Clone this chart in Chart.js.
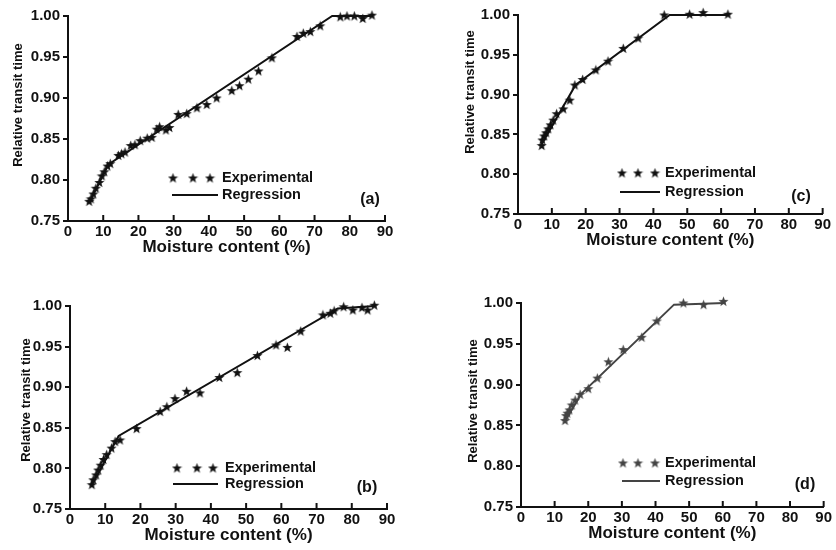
<!DOCTYPE html>
<html>
<head>
<meta charset="utf-8">
<script src="https://cdn.jsdelivr.net/npm/chart.js@4.4.1/dist/chart.umd.min.js"></script>
<style>
  body { margin: 0; background: #fff; width: 836px; height: 550px; overflow: hidden; position: relative; }
  canvas { position: absolute; }
</style>
</head>
<body>
<canvas id="chartA" width="410" height="258" style="left:0px;top:0px"></canvas>
<canvas id="chartC" width="383" height="251" style="left:450px;top:0px"></canvas>
<canvas id="chartB" width="412" height="256" style="left:0px;top:290px"></canvas>
<canvas id="chartD" width="382" height="254" style="left:452px;top:290px"></canvas>
<script>
// moisture content (%) vs relative transit time, 4 samples

const xTicks = [0, 10, 20, 30, 40, 50, 60, 70, 80, 90];
const yTicks = [0.75, 0.80, 0.85, 0.90, 0.95, 1.00];

// (a)
const expA_x = [6.0, 6.5, 7.2, 7.9, 8.9, 9.6, 10.3, 11.2, 12.0, 14.3, 15.2, 16.2, 17.8, 19.0, 20.5, 22.5, 23.8, 25.2, 26.0, 27.8, 28.8, 31.3, 33.7, 36.6, 39.4, 42.2, 46.5, 48.7, 51.2, 54.1, 57.9, 65.0, 66.8, 68.8, 71.6, 77.3, 79.2, 81.3, 83.7, 86.3];
const expA_y = [0.774, 0.777, 0.783, 0.790, 0.797, 0.805, 0.810, 0.817, 0.820, 0.830, 0.832, 0.834, 0.842, 0.843, 0.848, 0.851, 0.852, 0.862, 0.865, 0.861, 0.864, 0.880, 0.881, 0.888, 0.892, 0.900, 0.909, 0.915, 0.923, 0.933, 0.949, 0.975, 0.979, 0.981, 0.988, 0.999, 1.000, 1.000, 0.997, 1.001];
const regA_x = [6, 11.5, 75, 86.5];
const regA_y = [0.772, 0.819, 1.0, 1.0];

// (b)
const expB_x = [6.2, 6.6, 7.4, 8.0, 8.7, 9.5, 10.4, 11.8, 12.8, 14.2, 18.9, 25.6, 27.5, 29.8, 33.1, 36.9, 42.4, 47.5, 53.2, 58.5, 61.7, 65.5, 71.8, 73.9, 75.0, 77.7, 80.3, 82.9, 84.5, 86.4];
const expB_y = [0.780, 0.786, 0.792, 0.798, 0.804, 0.811, 0.817, 0.825, 0.833, 0.835, 0.849, 0.870, 0.876, 0.886, 0.895, 0.893, 0.912, 0.918, 0.939, 0.952, 0.949, 0.969, 0.989, 0.991, 0.994, 0.999, 0.995, 0.998, 0.995, 1.001];
const regB_x = [6, 13.8, 76, 86.5];
const regB_y = [0.778, 0.840, 0.997, 1.0];

// (c)
const expC_x = [7.0, 7.2, 7.7, 8.3, 8.9, 9.6, 10.4, 11.4, 13.4, 15.3, 16.8, 19.1, 23.0, 26.6, 31.1, 35.5, 43.2, 50.7, 54.7, 62.0];
const expC_y = [0.836, 0.843, 0.848, 0.852, 0.857, 0.862, 0.868, 0.876, 0.882, 0.893, 0.912, 0.919, 0.931, 0.942, 0.958, 0.971, 1.000, 1.001, 1.003, 1.001];
const regC_x = [7, 17, 44.8, 62];
const regC_y = [0.838, 0.912, 1.0, 1.0];

// (d)
const expD_x = [13.1, 13.4, 13.8, 14.4, 15.1, 16.1, 17.6, 20.0, 22.7, 26.0, 30.4, 35.9, 40.4, 48.3, 54.3, 60.2];
const expD_y = [0.856, 0.862, 0.865, 0.869, 0.875, 0.881, 0.888, 0.895, 0.908, 0.928, 0.943, 0.958, 0.978, 1.000, 0.998, 1.002];
const regD_x = [13, 18, 45.5, 60.5];
const regD_y = [0.855, 0.889, 0.998, 1.0];

const INK = '#111';
const FONT = '"Liberation Sans", Arial, sans-serif';
Chart.defaults.font.family = FONT;
Chart.defaults.color = INK;

// filled 5-point star used as the marker
function makeStar(color) {
    const c = document.createElement('canvas');
    c.width = 11; c.height = 11;
    const g = c.getContext('2d');
    g.fillStyle = color;
    g.beginPath();
    for (let i = 0; i < 10; i++) {
        const r = i % 2 === 0 ? 5.3 : 2.2;
        const a = -Math.PI / 2 + i * Math.PI / 5;
        const px = 5.5 + r * Math.cos(a), py = 5.9 + r * Math.sin(a);
        if (i === 0) g.moveTo(px, py); else g.lineTo(px, py);
    }
    g.closePath();
    g.fill();
    return c;
}

const toPts = (xs, ys) => xs.map((x, i) => ({ x: x, y: ys[i] }));

// inward x ticks, y title, in-plot legend and panel letter
const panelDecor = {
    id: 'panelDecor',
    afterDraw(chart, args, o) {
        const ctx = chart.ctx;
        const L = chart.chartArea.left, B = chart.chartArea.bottom;
        const xs = chart.scales.x;
        ctx.save();
        ctx.strokeStyle = INK;
        ctx.lineWidth = 2;
        xTicks.forEach(v => {
            if (v === 0) return;
            const px = xs.getPixelForValue(v);
            ctx.beginPath();
            ctx.moveTo(px, B);
            ctx.lineTo(px, B - 6);
            ctx.stroke();
        });

        ctx.fillStyle = INK;
        ctx.textBaseline = 'middle';

        // legend
        o.stars.forEach(sx => ctx.drawImage(o.star, L + sx - 5.5, B + o.starY - 5.5));
        ctx.font = 'bold 14.5px ' + FONT;
        ctx.textAlign = 'left';
        ctx.fillText('Experimental', L + o.textX, B + o.starY);
        ctx.fillText('Regression', L + o.textX, B + o.lineY);
        ctx.strokeStyle = o.lineColor;
        ctx.beginPath();
        ctx.moveTo(L + o.line[0], B + o.lineY);
        ctx.lineTo(L + o.line[1], B + o.lineY);
        ctx.stroke();

        ctx.font = 'bold 16px ' + FONT;
        ctx.textAlign = 'center';
        ctx.fillText(o.letter, L + o.letterPos[0], B + o.letterPos[1]);

        // y axis title
        ctx.font = 'bold 13px ' + FONT;
        ctx.translate(o.yTitle[0], o.yTitle[1]);
        ctx.rotate(-Math.PI / 2);
        ctx.fillText('Relative transit time', 0, 0);
        ctx.restore();
    }
};

function makePanel(id, expX, expY, regX, regY, cfg) {
    const star = makeStar(cfg.color);
    return new Chart(document.getElementById(id), {
        type: 'scatter',
        data: {
            datasets: [
                {
                    label: 'Regression',
                    data: toPts(regX, regY),
                    showLine: true,
                    borderColor: cfg.color,
                    borderWidth: 2,
                    pointRadius: 0,
                    clip: false
                },
                {
                    label: 'Experimental',
                    data: toPts(expX, expY),
                    showLine: false,
                    pointStyle: star,
                    clip: false
                }
            ]
        },
        options: {
            responsive: false,
            animation: false,
            layout: { padding: { top: cfg.padTop, right: cfg.padRight, left: 0, bottom: 0 } },
            plugins: {
                legend: { display: false },
                tooltip: { enabled: false },
                panelDecor: Object.assign({ star: star, lineColor: cfg.color }, cfg.decor)
            },
            scales: {
                x: {
                    type: 'linear', min: 0, max: 90,
                    afterBuildTicks: s => { s.ticks = xTicks.map(v => ({ value: v })); },
                    afterFit: s => { s.height = 37; },
                    ticks: { font: { size: 15, weight: 'bold' }, color: INK, padding: 2, maxRotation: 0, autoSkip: false },
                    grid: { display: true, drawOnChartArea: false, drawTicks: false, color: INK },
                    border: { display: true, color: INK, width: 2 },
                    title: { display: true, text: 'Moisture content (%)', color: INK, font: { size: 17, weight: 'bold' }, padding: { top: 0, bottom: 0 } }
                },
                y: {
                    type: 'linear', min: 0.75, max: 1.0,
                    afterBuildTicks: s => { s.ticks = yTicks.map(v => ({ value: v })); },
                    afterFit: s => { s.width = cfg.yWidth; },
                    ticks: { font: { size: 15, weight: 'bold' }, color: INK, padding: 3, callback: v => Number(v).toFixed(2) },
                    grid: { display: true, drawOnChartArea: false, drawTicks: true, tickLength: 5, lineWidth: 2, color: INK },
                    border: { display: true, color: INK, width: 2 }
                }
            }
        },
        plugins: [panelDecor]
    });
}

// 1. panel (a)
makePanel('chartA', expA_x, expA_y, regA_x, regA_y, {
    color: INK, padTop: 16, padRight: 25, yWidth: 68,
    decor: { stars: [105, 125, 142], starY: -43, textX: 154, line: [104, 150], lineY: -26, letter: '(a)', letterPos: [302, -21], yTitle: [18, 105] }
});

// 2. panel (c)
makePanel('chartC', expC_x, expC_y, regC_x, regC_y, {
    color: INK, padTop: 15, padRight: 10, yWidth: 68,
    decor: { stars: [104, 120, 137], starY: -41, textX: 147, line: [102, 142], lineY: -22, letter: '(c)', letterPos: [283, -17], yTitle: [20, 92] }
});

// 3. panel (b)
makePanel('chartB', expB_x, expB_y, regB_x, regB_y, {
    color: INK, padTop: 16, padRight: 25, yWidth: 70,
    decor: { stars: [107, 127, 143], starY: -41, textX: 155, line: [103, 148], lineY: -25, letter: '(b)', letterPos: [297, -21], yTitle: [26, 110] }
});

// 4. panel (d) - regression drawn lighter in the original
makePanel('chartD', expD_x, expD_y, regD_x, regD_y, {
    color: '#444', padTop: 13, padRight: 10, yWidth: 69,
    decor: { stars: [102, 117, 134], starY: -44, textX: 144, line: [101, 139], lineY: -26, letter: '(d)', letterPos: [284, -22], yTitle: [21, 111] }
});
</script>
</body>
</html>
